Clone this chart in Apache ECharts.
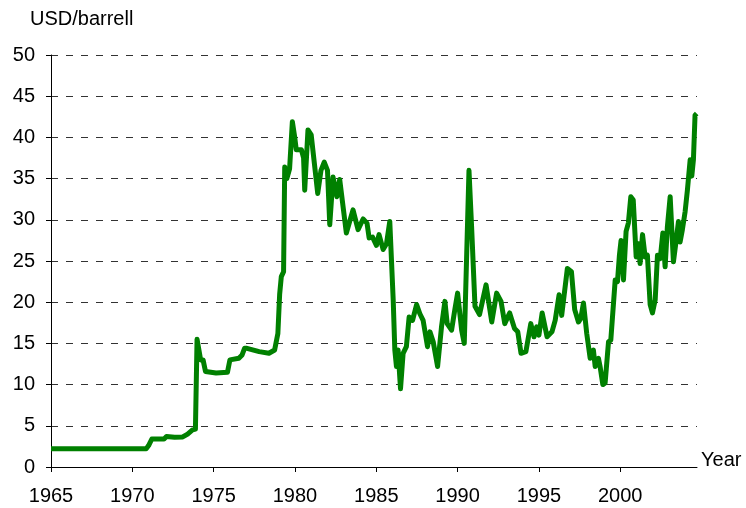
<!DOCTYPE html>
<html>
<head>
<meta charset="utf-8">
<script src="https://cdn.jsdelivr.net/npm/echarts@6/dist/echarts.min.js"></script>
<style>
  html, body { margin: 0; padding: 0; background: #fff; }
  #chart { width: 746px; height: 508px; }
</style>
</head>
<body>
<div id="chart"></div>
<script>
// oil price, USD per barrel
var years = [
  1965.0, 1970.85, 1971.0, 1971.2, 1971.95, 1972.1, 1972.6, 1973.1, 1973.4, 1973.7,
  1973.88, 1973.98, 1974.05, 1974.2, 1974.35, 1974.5, 1975.15, 1975.85, 1976.0, 1976.55,
  1976.75, 1976.9, 1977.05, 1977.8, 1978.4, 1978.75, 1978.95, 1979.06, 1979.16, 1979.3,
  1979.37, 1979.43, 1979.5, 1979.67, 1979.84, 1979.98, 1980.08, 1980.4, 1980.53, 1980.6,
  1980.7, 1980.8, 1981.0, 1981.1, 1981.4, 1981.6, 1981.8, 1982.0, 1982.14, 1982.34,
  1982.58, 1982.75, 1983.16, 1983.57, 1983.88, 1984.19, 1984.43, 1984.56, 1984.77, 1985.01,
  1985.17, 1985.42, 1985.63, 1985.83, 1986.04, 1986.14, 1986.24, 1986.34, 1986.49, 1986.65,
  1986.85, 1987.02, 1987.23, 1987.48, 1987.68, 1987.88, 1988.15, 1988.3, 1988.5, 1988.77,
  1989.01, 1989.22, 1989.36, 1989.63, 1989.83, 1990.0, 1990.25, 1990.41, 1990.7, 1990.86,
  1991.07, 1991.35, 1991.75, 1992.1, 1992.4, 1992.67, 1992.9, 1993.2, 1993.5, 1993.7,
  1993.9, 1994.2, 1994.5, 1994.7, 1994.86, 1995.0, 1995.2, 1995.5, 1995.8, 1996.0,
  1996.24, 1996.4, 1996.75, 1997.0, 1997.2, 1997.43, 1997.57, 1997.74, 1997.94, 1998.15,
  1998.35, 1998.46, 1998.66, 1998.76, 1998.93, 1999.07, 1999.28, 1999.42, 1999.69, 1999.83,
  1999.95, 2000.05, 2000.2, 2000.36, 2000.5, 2000.65, 2000.8, 2000.98, 2001.12, 2001.22,
  2001.37, 2001.53, 2001.67, 2001.84, 2001.98, 2002.15, 2002.29, 2002.46, 2002.62, 2002.76,
  2002.9, 2003.07, 2003.27, 2003.44, 2003.58, 2003.68, 2003.82, 2003.99, 2004.13, 2004.3,
  2004.4, 2004.5, 2004.6, 2004.7
];
var prices = [
  2.2, 2.2, 2.6, 3.4, 3.4, 3.7, 3.6, 3.65, 4.0, 4.5,
  4.6, 15.5, 15.5, 13.0, 13.0, 11.6, 11.4, 11.5, 13.0, 13.2,
  13.6, 14.4, 14.4, 14.0, 13.8, 14.2, 16.2, 21.0, 23.1, 23.7,
  36.4, 36.4, 35.0, 36.2, 41.9, 40.1, 38.5, 38.5, 37.5, 33.6,
  33.4, 40.9, 40.3, 38.5, 33.2, 36.0, 37.0, 36.0, 29.4, 35.2,
  32.8, 34.9, 28.4, 31.2, 28.8, 30.1, 29.6, 27.8, 27.9, 26.9,
  28.2, 26.4, 27.1, 29.8, 20.3, 14.2, 12.2, 14.2, 9.5, 13.8,
  14.6, 18.2, 17.8, 19.7, 18.6, 17.8, 14.6, 16.4, 15.2, 12.2,
  17.0, 20.1, 17.4, 16.6, 19.1, 21.1, 16.6, 15.0, 36.0, 29.2,
  19.5, 18.5, 22.1, 17.6, 21.1, 20.1, 17.4, 18.7, 16.8, 16.4,
  13.8, 14.0, 17.4, 15.8, 17.0, 16.0, 18.7, 15.8, 16.4, 17.8,
  20.9, 18.4, 24.1, 23.7, 19.1, 17.6, 18.0, 19.9, 16.2, 13.2,
  14.2, 12.2, 13.2, 12.2, 10.0, 10.2, 15.2, 15.4, 22.7, 22.5,
  25.7, 27.5, 22.7, 28.6, 29.6, 32.8, 32.4, 25.5, 27.1, 24.7,
  28.2, 25.5, 25.7, 19.7, 18.7, 20.3, 25.7, 25.3, 28.4, 24.3,
  29.2, 32.8, 24.9, 27.5, 29.8, 27.3, 28.8, 31.0, 33.6, 37.3,
  35.3, 37.3, 42.7, 42.9
];
var yearTicks = [1965, 1970, 1975, 1980, 1985, 1990, 1995, 2000];

var points = years.map(function (y, i) { return [y, prices[i]]; });

var font = 'Arial, "Liberation Sans", sans-serif';

var chart = echarts.init(document.getElementById('chart'));
chart.setOption({
  animation: false,
  grid: { left: 51, right: 49, top: 55, bottom: 41 },
  xAxis: {
    type: 'value',
    min: 1965,
    max: 2004.72,
    axisLine: { lineStyle: { color: '#000', width: 1 } },
    axisTick: { length: 5, customValues: yearTicks, lineStyle: { color: '#000' } },
    axisLabel: {
      customValues: yearTicks,
      formatter: function (v) { return String(v); },
      color: '#000', fontSize: 20, fontFamily: font, margin: 19
    },
    splitLine: { show: false }
  },
  yAxis: {
    type: 'value',
    min: 0, max: 50, interval: 5,
    axisLine: { show: true, lineStyle: { color: '#000', width: 1 } },
    axisTick: { show: true, length: 5, lineStyle: { color: '#000' } },
    axisLabel: { color: '#000', fontSize: 20, fontFamily: font, margin: 16 },
    splitLine: { show: true, lineStyle: { color: '#333', type: [7, 8], width: 1 } }
  },
  graphic: [
    { type: 'text', left: 30, top: 9, style: { text: 'USD/barrell', fontSize: 20, fontFamily: font, fill: '#000' } },
    { type: 'text', left: 701, top: 450, style: { text: 'Year', fontSize: 20, fontFamily: font, fill: '#000' } }
  ],
  series: [{
    type: 'line',
    data: points,
    showSymbol: false,
    lineStyle: { color: '#008000', width: 5, join: 'round' },
    z: 3
  }]
});
</script>
</body>
</html>
